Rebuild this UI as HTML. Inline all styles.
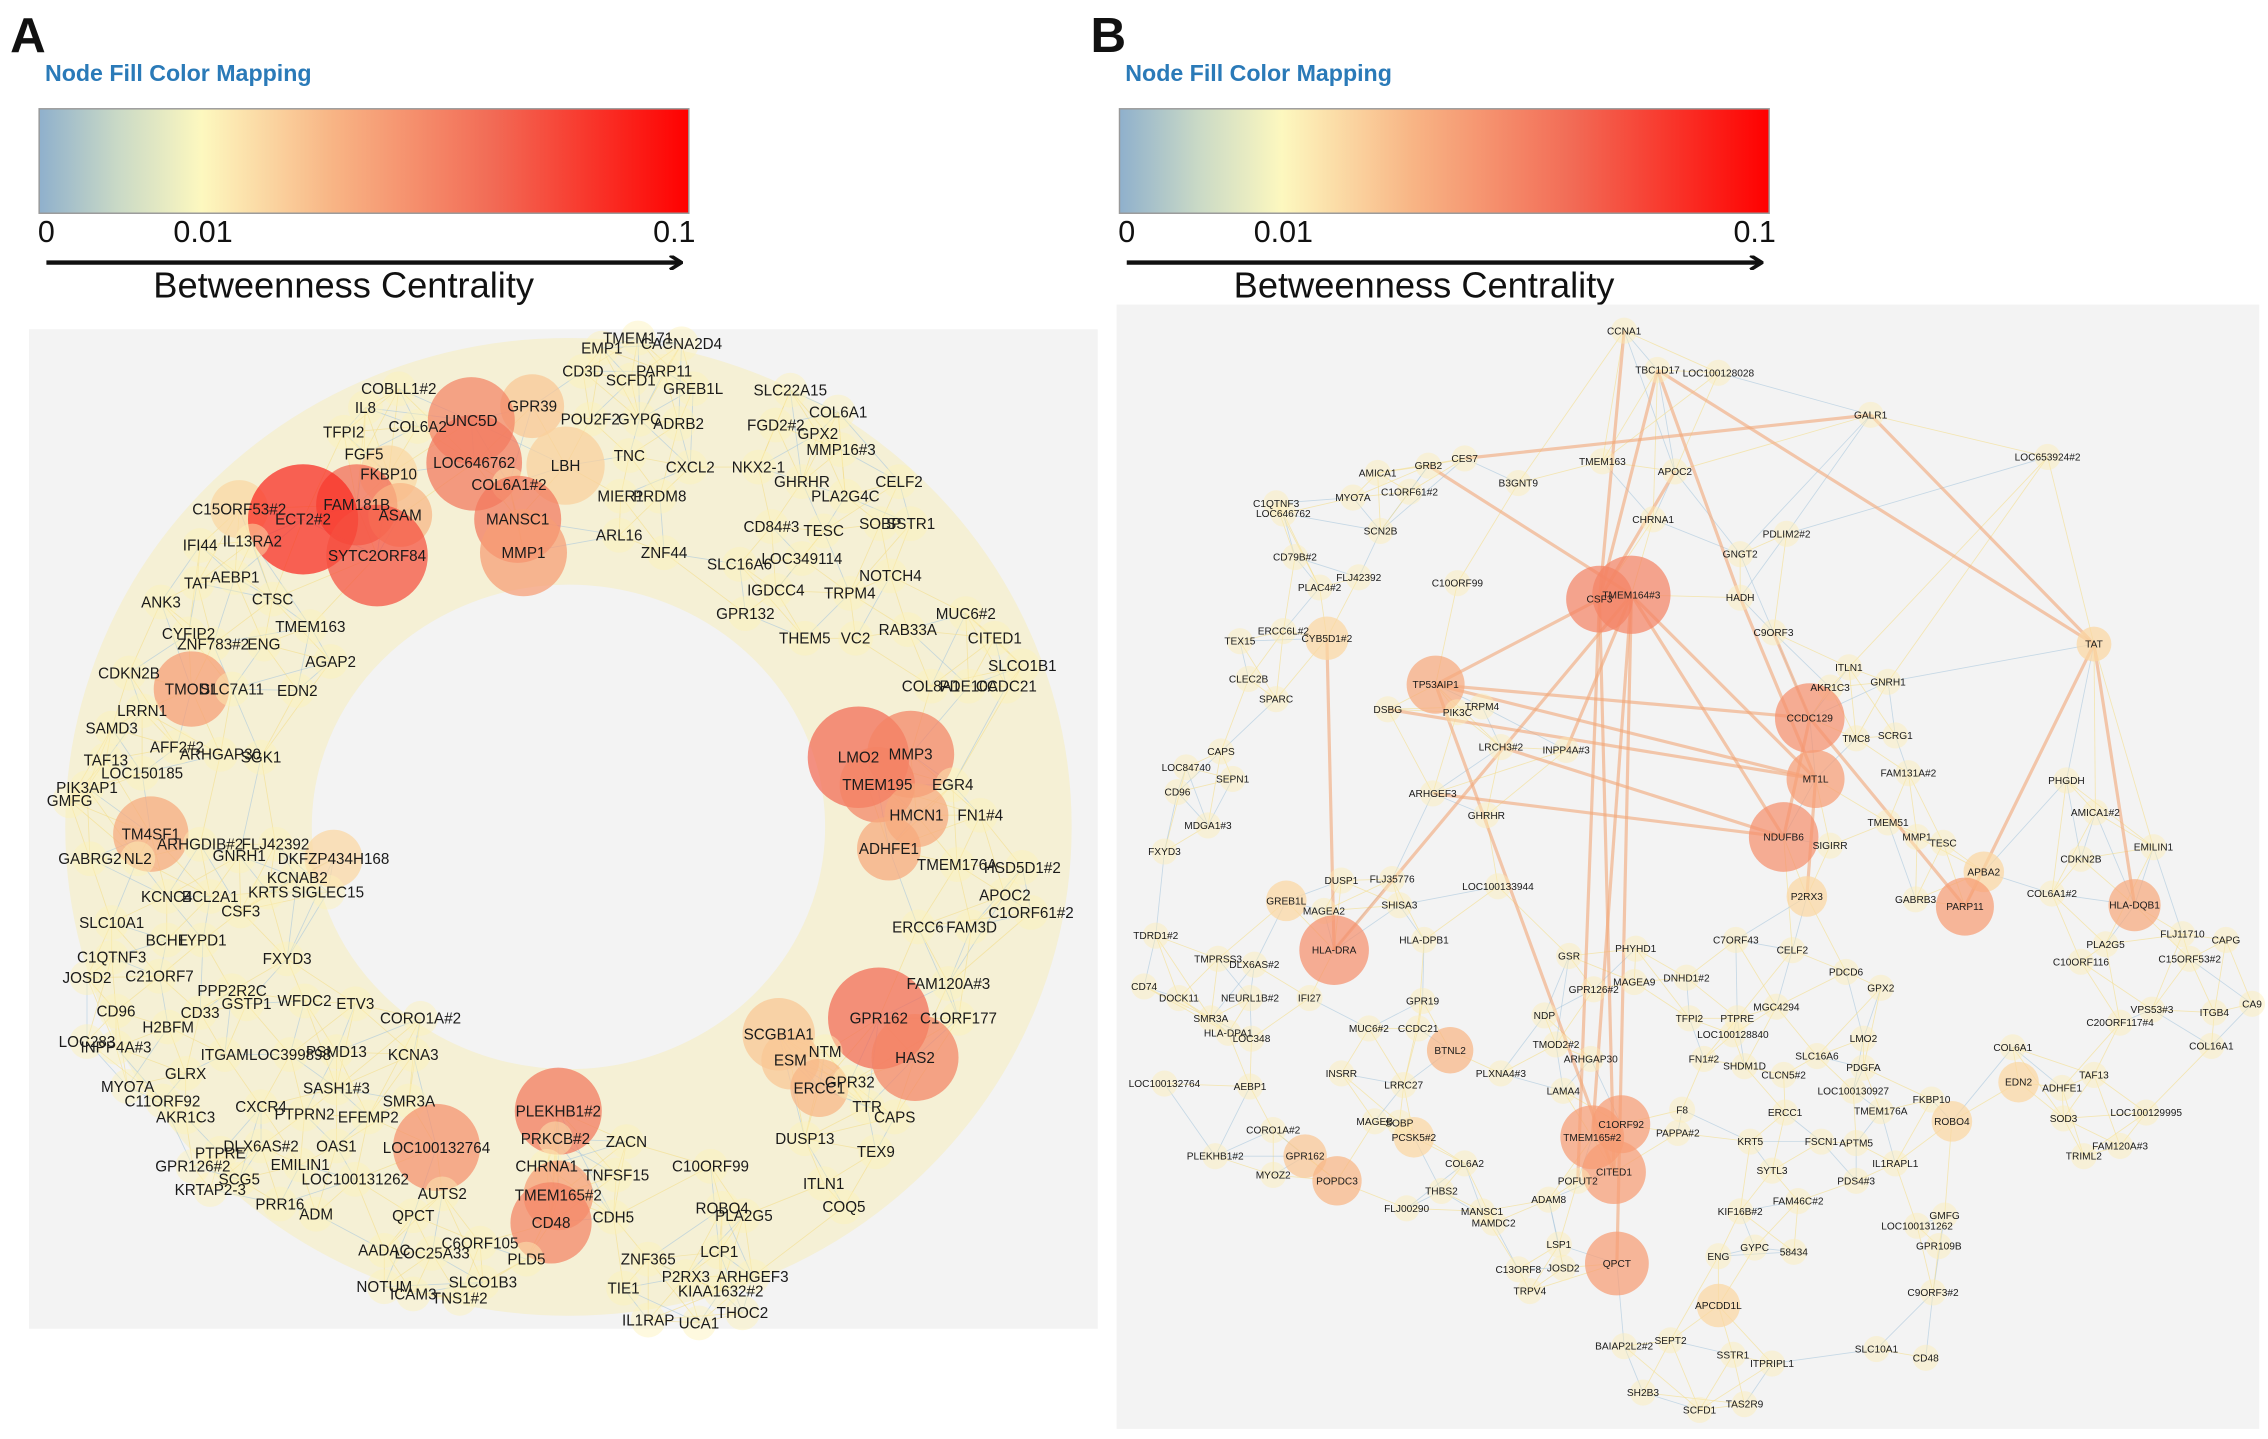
<!DOCTYPE html>
<html><head><meta charset="utf-8"><style>
html,body{margin:0;padding:0;background:#fff;}
svg{display:block;}
text{font-family:"Liberation Sans",sans-serif;}
</style></head><body>
<svg id="fig" width="2268" height="1439" viewBox="0 0 1564 992" preserveAspectRatio="none" xmlns="http://www.w3.org/2000/svg">
<defs>
<linearGradient id="cbar" x1="0" x2="1" y1="0" y2="0">
<stop offset="0" stop-color="#8fb0cc"/><stop offset="0.12" stop-color="#c9d9c6"/>
<stop offset="0.25" stop-color="#fdf8bf"/><stop offset="0.45" stop-color="#f8b585"/>
<stop offset="0.7" stop-color="#f26a55"/><stop offset="1" stop-color="#ff0000"/>
</linearGradient>
<marker id="arr" markerWidth="10" markerHeight="10" refX="8" refY="5" orient="auto" markerUnits="userSpaceOnUse"><path d="M1,0 L9,5 L1,10" fill="none" stroke="#111" stroke-width="2.5"/></marker>
</defs>
<g id="legends"></g>
<rect x="20" y="227" width="737" height="689" fill="#f3f3f3"/>
<rect x="770" y="210" width="788" height="775" fill="#f3f3f3"/>
<g id="netA"></g>
<g id="netB"></g>
</svg>
<script>
const NS="http://www.w3.org/2000/svg";
function mk(tag,attrs,parent){const e=document.createElementNS(NS,tag);for(const k in attrs)e.setAttribute(k,attrs[k]);parent.appendChild(e);return e;}
const tickLabels=["0","0.01","0.1"];
const tickValues=[0,0.01,0.1];
function col(v){const stops=[[0,[143,176,204]],[0.01,[253,248,191]],[0.03,[248,181,133]],[0.06,[242,106,85]],[0.1,[255,0,0]]];
 v=Math.max(0,Math.min(0.1,v));for(let i=1;i<stops.length;i++){if(v<=stops[i][0]){const a=stops[i-1],b=stops[i],t=(v-a[0])/(b[0]-a[0]);return "rgb("+a[1].map((c,j)=>Math.round(c+(b[1][j]-c)*t)).join(",")+")";}}return "rgb(255,0,0)";}
const leg=document.getElementById('legends');
[["A",27,"a"],["B",772,"b"]].forEach(([L,x0,k])=>{
 const t=mk('text',{x:x0-20,y:36,'font-size':34,'font-weight':'bold',fill:'#111'},leg);t.textContent=L;
 
 const h=mk('text',{x:x0+4,y:56,'font-size':16,'font-weight':'bold',fill:'#2a7ab8'},leg);h.textContent="Node Fill Color Mapping";
 
 const r=mk('rect',{x:x0,y:75,width:448,height:72,fill:'url(#cbar)',stroke:'#999','stroke-width':1},leg);
 
 const tx=[x0+5,x0+113,x0+438];
 tickLabels.forEach((s,i)=>{const e=mk('text',{x:tx[i],y:167,'font-size':21,fill:'#111','text-anchor':'middle'},leg);e.textContent=s;
  });
 const a=mk('line',{x1:x0+5,y1:181,x2:x0+442,y2:181,stroke:'#111','stroke-width':3,'marker-end':'url(#arr)'},leg);
 
 const ti=mk('text',{x:x0+210,y:205,'font-size':25,fill:'#111','text-anchor':'middle'},leg);ti.textContent="Betweenness Centrality";
 
});
const labelsA="TMEM171,440,233;EMP1,415,240;CACNA2D4,470,237;CD3D,402,256;SCFD1,435,262;PARP11,458,256;GREB1L,478,268;SLC22A15,545,269;COBLL1#2,275,268;IL8,252,281;GPR39,367,280;POU2F2,407,289;GYPC,441,289;ADRB2,468,292;FGD2#2,535,293;COL6A1,578,284;GPX2,564,299;COL6A2,288,294;UNC5D,325,290;TFPI2,237,298;MMP16#3,580,310;TNC,434,314;CXCL2,476,322;NKX2-1,523,322;FGF5,251,313;LOC646762,327,319;LBH,390,321;FKBP10,268,327;COL6A1#2,351,334;GHRHR,553,332;CELF2,620,332;MIER1,428,342;PRDM8,455,342;PLA2G4C,583,342;C15ORF53#2,165,351;FAM181B,246,348;ECT2#2,209,358;ASAM,276,355;MANSC1,357,358;CD84#3,532,363;TESC,568,366;SOBP,607,361;SSTR1,628,361;ARL16,427,369;IFI44,138,376;IL13RA2,174,373;SYTC2ORF84,260,383;MMP1,361,381;ZNF44,458,381;SLC16A6,510,389;LOC349114,553,385;TAT,136,402;AEBP1,162,398;NOTCH4,614,397;ANK3,111,415;CTSC,188,413;IGDCC4,535,407;TRPM4,586,409;GPR132,514,423;MUC6#2,666,423;TMEM163,214,432;CYFIP2,130,437;ZNF783#2,147,444;ENG,182,444;RAB33A,626,434;THEM5,555,440;VC2,590,440;CITED1,686,440;AGAP2,228,456;CDKN2B,89,464;SLCO1B1,705,459;TMOD1,132,475;SLC7A11,160,475;EDN2,205,476;COL8A1,642,473;PDE10A,668,473;CCDC21,694,473;LRRN1,98,490;AFF2#2,122,515;SAMD3,77,502;ARHGAP30,152,520;SGK1,180,522;LMO2,592,522;MMP3,628,520;EGR4,657,541;TAF13,73,524;LOC150185,98,533;TMEM195,605,541;PIK3AP1,60,543;GMFG,48,552;HMCN1,632,562;FN1#4,676,562;TM4SF1,104,575;ARHGDIB#2,138,582;GNRH1,165,590;FLJ42392,190,582;DKFZP434H168,230,592;GABRG2,62,592;NL2,95,592;ADHFE1,613,585;TMEM176A,660,596;HSD5D1#2,705,598;KCNAB2,205,605;KRTS,185,615;SIGLEC15,226,615;KCNC4,115,618;BCL2A1,145,618;CSF3,166,628;APOC2,693,617;C1ORF61#2,711,629;SLC10A1,77,636;ERCC6,633,639;FAM3D,670,639;BCHE,115,648;LYPD1,140,648;C1QTNF3,77,660;FXYD3,198,661;JOSD2,60,674;C21ORF7,110,673;PPP2R2C,160,683;FAM120A#3,654,678;CD96,80,697;CD33,138,698;GSTP1,170,692;WFDC2,210,690;ETV3,245,692;CORO1A#2,290,702;GPR162,606,702;C1ORF177,661,702;H2BFM,116,708;LOC283,60,718;INPP4A#3,80,722;ITGAM,155,727;LOC399898,200,727;PSMD13,232,725;KCNA3,285,727;SCGB1A1,537,713;NTM,569,725;HAS2,631,729;ESM,545,731;MYO7A,88,749;GLRX,128,740;SASH1#3,232,750;SMR3A,282,759;ERCC1,565,750;GPR32,586,746;C11ORF92,112,759;CXCR4,180,763;PTPRN2,210,768;EFEMP2,254,770;PLEKHB1#2,385,766;TTR,598,763;CAPS,617,770;AKR1C3,128,770;DUSP13,555,785;ZACN,432,787;PRKCB#2,383,785;GPR126#2,133,804;DLX6AS#2,180,790;OAS1,232,790;LOC100132764,301,791;CHRNA1,377,804;TNFSF15,425,810;C10ORF99,490,804;TEX9,604,794;PTPRE,152,795;EMILIN1,207,803;SCG5,165,813;LOC100131262,245,813;AUTS2,305,823;TMEM165#2,385,824;ROBO4,498,833;ITLN1,568,816;KRTAP2-3,145,820;PRR16,193,830;PLA2G5,513,838;COQ5,582,832;CDH5,423,839;CD48,380,843;ADM,218,837;QPCT,285,838;C6ORF105,331,857;AADAC,265,862;LOC25A33,298,864;LCP1,496,863;ZNF365,447,868;PLD5,363,868;P2RX3,473,880;ARHGEF3,519,880;KIAA1632#2,497,890;NOTUM,265,887;ICAM3,285,892;TNS1#2,317,895;SLCO1B3,333,884;TIE1,430,888;THOC2,512,905;IL1RAP,447,910;UCA1,482,912";
const hubNamesA=["ECT2#2","SYTC2ORF84","FAM181B","UNC5D","LOC646762","MANSC1","MMP1","LBH","C15ORF53#2","LMO2","MMP3","TMEM195","HMCN1","ADHFE1","GPR162","HAS2","SCGB1A1","ESM","PLEKHB1#2","CD48","TMEM165#2","LOC100132764","TM4SF1","TMOD1","GPR39","FKBP10","DKFZP434H168","ERCC1","ASAM"];
const hubValuesA=[0.085,0.07,0.06,0.05,0.055,0.055,0.04,0.022,0.02,0.06,0.05,0.05,0.035,0.035,0.06,0.05,0.025,0.025,0.055,0.05,0.04,0.045,0.035,0.04,0.025,0.02,0.02,0.03,0.03];
const hubSizesA=[38,35,28,30,33,30,30,27,20,35,30,26,22,22,35,30,25,20,30,28,24,30,26,26,22,20,20,20,22];
const labelsB="CCNA1,1120,228;TBC1D17,1143,255;LOC100128028,1185,257;GALR1,1290,286;LOC653924#2,1412,315;CES7,1010,316;GRB2,985,321;AMICA1,950,326;MYO7A,933,343;C1ORF61#2,972,339;B3GNT9,1047,333;TMEM163,1105,318;APOC2,1155,325;C1QTNF3,880,347;LOC646762,885,354;CHRNA1,1140,358;SCN2B,952,366;PDLIM2#2,1232,368;CD79B#2,893,384;GNGT2,1200,382;FLJ42392,937,398;PLAC4#2,910,405;C10ORF99,1005,402;HADH,1200,412;CSF3,1103,413;TMEM164#3,1125,410;C9ORF3,1223,436;TEX15,855,442;ERCC6L#2,885,435;CYB5D1#2,915,440;TAT,1444,444;ITLN1,1275,460;GNRH1,1302,470;AKR1C3,1262,474;CLEC2B,861,468;TP53AIP1,990,472;SPARC,880,482;DSBG,957,489;TRPM4,1022,487;PIK3C,1005,491;CCDC129,1248,495;SCRG1,1307,507;TMC8,1280,509;CAPS,842,518;LRCH3#2,1035,515;INPP4A#3,1080,517;FAM131A#2,1316,533;PHGDH,1425,538;LOC84740,818,529;SEPN1,850,537;CD96,812,546;ARHGEF3,988,547;MT1L,1252,537;TMEM51,1302,567;MMP1,1322,577;TESC,1340,581;AMICA1#2,1445,560;GHRHR,1025,562;FXYD3,803,587;MDGA1#3,833,569;NDUFB6,1230,577;SIGIRR,1262,583;CDKN2B,1435,592;EMILIN1,1485,584;DUSP1,925,607;FLJ35776,960,606;LOC100133944,1033,611;APBA2,1368,601;COL6A1#2,1415,616;GREB1L,887,621;MAGEA2,913,628;SHISA3,965,624;P2RX3,1246,618;GABRB3,1321,620;PARP11,1355,625;HLA-DQB1,1472,624;FLJ11710,1505,644;CAPG,1535,648;TDRD1#2,797,645;HLA-DRA,920,655;HLA-DPB1,982,648;C7ORF43,1197,648;PLA2G5,1452,651;TMPRSS3,840,661;DLX6AS#2,865,665;PHYHD1,1128,654;GSR,1082,659;CELF2,1236,655;C10ORF116,1435,663;C15ORF53#2,1510,661;CD74,789,680;DOCK11,813,688;NEURL1B#2,862,688;IFI27,903,688;GPR126#2,1099,682;MAGEA9,1127,677;DNHD1#2,1163,674;PDCD6,1273,670;GPX2,1297,681;VPS53#3,1484,696;ITGB4,1527,698;CA9,1553,692;SMR3A,835,702;GPR19,981,690;NDP,1065,700;C20ORF117#4,1462,705;HLA-DPA1,847,712;LOC348,863,716;PTPRE,1198,702;MGC4294,1225,694;TFPI2,1165,702;LOC100128840,1195,713;LMO2,1285,716;COL6A1,1388,722;COL16A1,1525,721;MUC6#2,944,709;CCDC21,978,709;BTNL2,1000,724;TMOD2#2,1073,720;ARHGAP30,1097,730;FN1#2,1175,730;SHDM1D,1203,735;SLC16A6,1253,728;PDGFA,1285,736;TAF13,1444,741;LOC100132764,803,747;AEBP1,862,749;INSRR,925,740;LRRC27,968,748;LAMA4,1078,752;CLCN5#2,1230,741;LOC100130927,1278,752;EDN2,1392,746;ADHFE1,1422,750;LOC100129995,1480,767;CORO1A#2,878,779;MAGEB,948,773;PLXNA4#3,1035,740;F8,1160,765;ERCC1,1231,767;TMEM176A,1297,766;FKBP10,1332,758;SOD3,1423,771;PCSK5#2,975,784;C1ORF92,1118,775;TMEM165#2,1098,784;PAPPA#2,1157,781;KRT5,1207,787;FSCN1,1256,787;APTM5,1280,788;ROBO4,1346,773;FAM120A#3,1462,790;PLEKHB1#2,838,797;GPR162,900,797;SOBP,965,774;IL1RAPL1,1307,802;TRIML2,1437,797;MYOZ2,878,810;POPDC3,922,814;SYTL3,1222,807;PDS4#3,1280,814;COL6A2,1010,802;CITED1,1113,808;POFUT2,1088,814;THBS2,994,821;KIF16B#2,1200,835;FAM46C#2,1240,828;ADAM8,1068,827;FLJ00290,970,833;MANSC1,1022,835;MAMDC2,1030,843;GMFG,1341,838;LOC100131262,1322,845;LSP1,1075,858;ENG,1185,866;GYPC,1210,860;58434,1237,863;GPR109B,1337,859;QPCT,1115,871;C13ORF8,1047,875;JOSD2,1078,874;TRPV4,1055,890;C9ORF3#2,1333,891;APCDD1L,1185,900;SLC10A1,1294,930;BAIAP2L2#2,1120,928;SEPT2,1152,924;SSTR1,1195,934;ITPRIPL1,1222,940;CD48,1328,936;SH2B3,1133,960;SCFD1,1172,972;TAS2R9,1203,968";
const hubNamesB=["CSF3","TMEM164#3","TP53AIP1","CCDC129","MT1L","NDUFB6","PARP11","HLA-DQB1","HLA-DRA","BTNL2","CITED1","TMEM165#2","C1ORF92","POPDC3","QPCT","TAT","CYB5D1#2","GREB1L","APBA2","P2RX3","EDN2","ROBO4","APCDD1L","GPR162","PCSK5#2"];
const hubValuesB=[0.05,0.05,0.035,0.045,0.04,0.045,0.04,0.035,0.045,0.03,0.04,0.04,0.04,0.03,0.04,0.02,0.02,0.02,0.02,0.02,0.02,0.02,0.02,0.025,0.02];
const hubSizesB=[23,27,20,24,20,24,20,18,24,16,22,22,20,17,22,12,15,14,14,14,14,14,15,15,14];
const hubEdgesB=[["CCNA1","CSF3"],["TBC1D17","CSF3"],["TBC1D17","TAT"],["GALR1","TAT"],["GALR1","CES7"],["TMEM164#3","MT1L"],["TMEM164#3","HLA-DRA"],["CSF3","CITED1"],["CSF3","TP53AIP1"],["TMEM164#3","NDUFB6"],["TP53AIP1","CCDC129"],["TP53AIP1","MT1L"],["TP53AIP1","CITED1"],["LRCH3#2","NDUFB6"],["DSBG","MT1L"],["ARHGEF3","NDUFB6"],["CCDC129","NDUFB6"],["HADH","MT1L"],["TAT","HLA-DQB1"],["TAT","PARP11"],["HLA-DRA","CYB5D1#2"],["TMEM164#3","QPCT"],["CCDC129","PARP11"],["TMEM164#3","TMEM165#2"],["CSF3","APOC2"],["GRB2","TMEM164#3"],["TMEM164#3","INPP4A#3"],["CSF3","POFUT2"],["MT1L","P2RX3"],["TBC1D17","HADH"],["C9ORF3","CCDC129"]];
function parse(s){return s.split(";").map(r=>{const p=r.split(",");return {n:p[0],x:+p[1],y:+p[2]};});}
function draw(g,labels,hubN,hubV,hubS,opts){
 const nodes=parse(labels);const byName={};nodes.forEach(n=>byName[n.n]=n);
 const eg=mk('g',{},g);
 nodes.forEach((a,i)=>{const d=nodes.map((b,j)=>[j,Math.hypot(a.x-b.x,a.y-b.y)]).filter(q=>q[0]!=i).sort((p,q)=>p[1]-q[1]).slice(0,opts.k);
  d.forEach(([j],m)=>{if(j<i)return;const b=nodes[j];const e=mk('line',{x1:a.x,y1:a.y,x2:b.x,y2:b.y,stroke:(i+m)%3==0?'#a9c7dd':'#f3dd8a','stroke-width':0.6,opacity:0.6},eg);
   });});
 if(opts.hubEdges){opts.hubEdges.forEach(([p,q])=>{const a=byName[p],b=byName[q];if(!a||!b)return;
  const e=mk('line',{x1:a.x,y1:a.y,x2:b.x,y2:b.y,stroke:'#f2a878','stroke-width':2.2,opacity:0.6},eg);
  });}
 const ng=mk('g',{},g);
 nodes.forEach(n=>{const hi=hubN.indexOf(n.n);const v=hi>=0?hubV[hi]:opts.baseV;const r=hi>=0?hubS[hi]:opts.r;
  const c=mk('circle',{cx:n.x,cy:n.y,r:r,fill:col(v),opacity:hi>=0?0.72:0.45},ng);
  });
 const lg=mk('g',{},g);
 nodes.forEach(n=>{const t=mk('text',{x:n.x,y:n.y+opts.fs*0.35,'font-size':opts.fs,'text-anchor':'middle',fill:'#1a1a1a','font-weight':opts.bold?'bold':'normal'},lg);
  t.textContent=n.n;});
}
const gA=document.getElementById('netA');
const band=mk('ellipse',{cx:392,cy:570,rx:262,ry:252,fill:'none',stroke:'#f4efcf','stroke-width':170,opacity:0.85},gA);

draw(gA,labelsA,hubNamesA,hubValuesA,hubSizesA,{k:7,r:12,baseV:0.012,fs:10.5,bold:false});
draw(document.getElementById('netB'),labelsB,hubNamesB,hubValuesB,hubSizesB,{k:5,r:9,baseV:0.013,fs:7,bold:false,hubEdges:hubEdgesB});
</script>
</body></html>
